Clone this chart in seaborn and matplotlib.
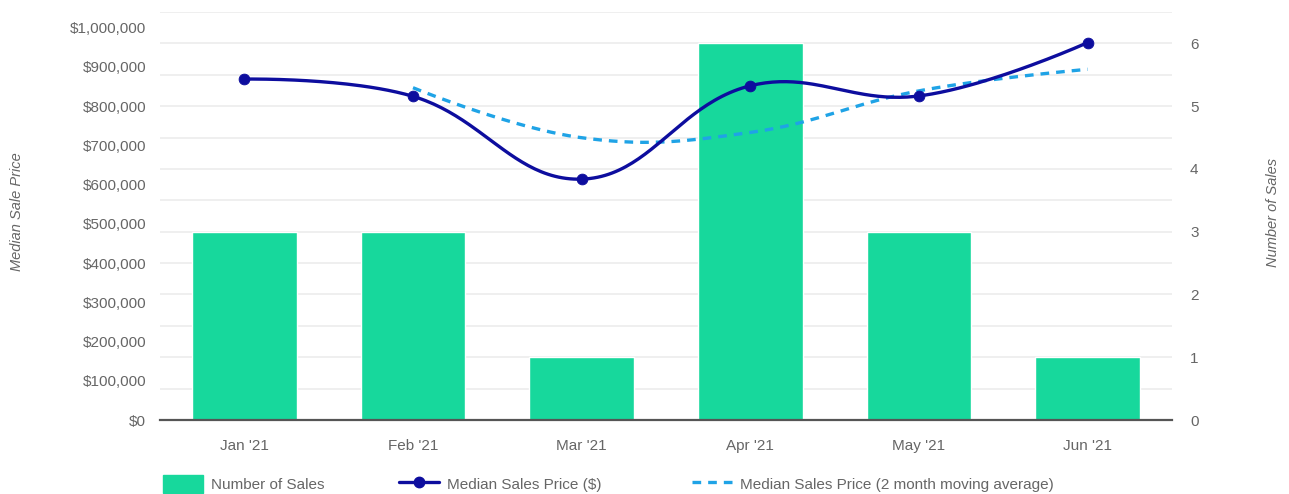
import numpy as np
import pandas as pd
import matplotlib
matplotlib.use("Agg")
import matplotlib.pyplot as plt
import seaborn as sns
from matplotlib.lines import Line2D
from matplotlib.patches import Patch
from matplotlib.ticker import FuncFormatter, MultipleLocator, FixedLocator

months = ["Jan '21", "Feb '21", "Mar '21", "Apr '21", "May '21", "Jun '21"]
num_sales = [3, 3, 1, 6, 3, 1]
median_price = [869000, 825000, 614000, 852000, 826000, 962000]

BAR = "#17d89c"
NAVY = "#0d0d9e"
LIGHT = "#1fa3e6"
TXT = "#666666"
FS = 11

sns.set_theme(style="white")
plt.rcParams["font.family"] = ["Liberation Sans", "DejaVu Sans"]

df = pd.DataFrame({"month": months, "sales": num_sales, "price": median_price})
df["ma"] = df["price"].rolling(2).mean()


def smooth(ax, xs, ys, tension=0.4):
    """Draw-only spline (cardinal bezier in pixel space) through the data points."""
    pts = ax.transData.transform(np.column_stack([xs, ys]))
    n = len(pts)
    cp_prev = [None] * n
    cp_next = [None] * n
    for i in range(n):
        cur = pts[i]
        prev = pts[i - 1] if i > 0 else cur
        nxt = pts[i + 1] if i < n - 1 else cur
        d01 = np.hypot(*(cur - prev))
        d12 = np.hypot(*(nxt - cur))
        tot = d01 + d12
        s01 = d01 / tot if tot else 0
        s12 = d12 / tot if tot else 0
        cp_prev[i] = cur - tension * s01 * (nxt - prev)
        cp_next[i] = cur + tension * s12 * (nxt - prev)
        if i == 0 or i == n - 1:
            cp_prev[i] = cur.copy(); cp_next[i] = cur.copy()
    t = np.linspace(0, 1, 50)[:, None]
    segs = []
    for i in range(1, n):
        p0, p1, p2, p3 = pts[i - 1], cp_next[i - 1], cp_prev[i], pts[i]
        seg = ((1 - t) ** 3) * p0 + 3 * ((1 - t) ** 2) * t * p1 + 3 * (1 - t) * t ** 2 * p2 + t ** 3 * p3
        segs.append(seg if i == 1 else seg[1:])
    arr = ax.transData.inverted().transform(np.vstack(segs))
    return arr[:, 0], arr[:, 1]


fig = plt.figure(figsize=(12.89, 4.94), dpi=100)
ax = fig.add_axes([160 / 1289, 74 / 494, 1012 / 1289, 408 / 494])

sns.barplot(data=df, x="month", y="sales", ax=ax, color=BAR, saturation=1,
            width=0.62, zorder=2)
ax.set_xlim(-0.5, 5.5)
ax.set_ylim(0, 6.5)
ax.yaxis.set_major_locator(FixedLocator([0, 1, 2, 3, 4, 5, 6]))
ax.yaxis.set_minor_locator(MultipleLocator(0.5))
ax.grid(True, which="both", axis="y", color="#ececec", linewidth=1.2)
ax.set_axisbelow(True)
ax.set_xlabel("")
ax.set_ylabel("")
for s in ["top", "left", "right"]:
    ax.spines[s].set_visible(False)
ax.spines["bottom"].set_color("#555555")
ax.spines["bottom"].set_linewidth(1.6)

ax2 = ax.twinx()
ax.yaxis.tick_right()
ax.tick_params(axis="both", which="both", length=0, colors=TXT, labelsize=FS)
ax.tick_params(axis="y", pad=13)
ax.tick_params(axis="x", pad=14)

ax2.set_xlim(-0.5, 5.5)
ax2.set_ylim(0, 1040000)
ax2.yaxis.tick_left()
ax2.yaxis.set_major_locator(MultipleLocator(100000))
ax2.yaxis.set_major_formatter(FuncFormatter(lambda v, p: f"${v:,.0f}"))
ax2.tick_params(axis="y", length=0, colors=TXT, labelsize=FS, pad=10)
for s in ["top", "left", "right", "bottom"]:
    ax2.spines[s].set_visible(False)
ax2.set_ylabel("")

fig.text(17 / 1289, 1 - 212 / 494, "Median Sale Price", rotation=90, ha="center",
         va="center", fontsize=10.5, color=TXT, style="italic")
fig.text(1273 / 1289, 1 - 212 / 494, "Number of Sales", rotation=90, ha="center",
         va="center", fontsize=10.5, color=TXT, style="italic")

xpos = np.arange(len(months))
sx, sy = smooth(ax2, xpos, df["price"].values)
ax2.plot(sx, sy, color=NAVY, linewidth=2.4, zorder=4, solid_capstyle="round")
sns.scatterplot(x=xpos, y=df["price"].values, ax=ax2, color=NAVY, s=60,
                edgecolor=NAVY, zorder=5, legend=False)
ma = df["ma"].dropna()
mx, my = smooth(ax2, xpos[ma.index], ma.values)
ax2.plot(mx, my, color=LIGHT, linewidth=2.4, linestyle=(0, (2.6, 2.1)), zorder=3)

entries = [
    (Patch(facecolor=BAR, edgecolor=BAR), "Number of Sales", 163),
    (Line2D([0], [0], color=NAVY, linewidth=2.4, marker="o", markersize=7.5),
     "Median Sales Price ($)", 399),
    (Line2D([0], [0], color=LIGHT, linewidth=2.4, linestyle=(0, (2.6, 2.1))),
     "Median Sales Price (2 month moving average)", 692),
]
for h, lab, x0 in entries:
    fig.legend([h], [lab], loc="center left", bbox_to_anchor=(x0 / 1289, 1 - 484 / 494),
               frameon=False, fontsize=FS, handlelength=2.6, handleheight=1.35,
               handletextpad=0.55, borderaxespad=0, borderpad=0, labelcolor=TXT)

fig.savefig("out.png", dpi=100)
